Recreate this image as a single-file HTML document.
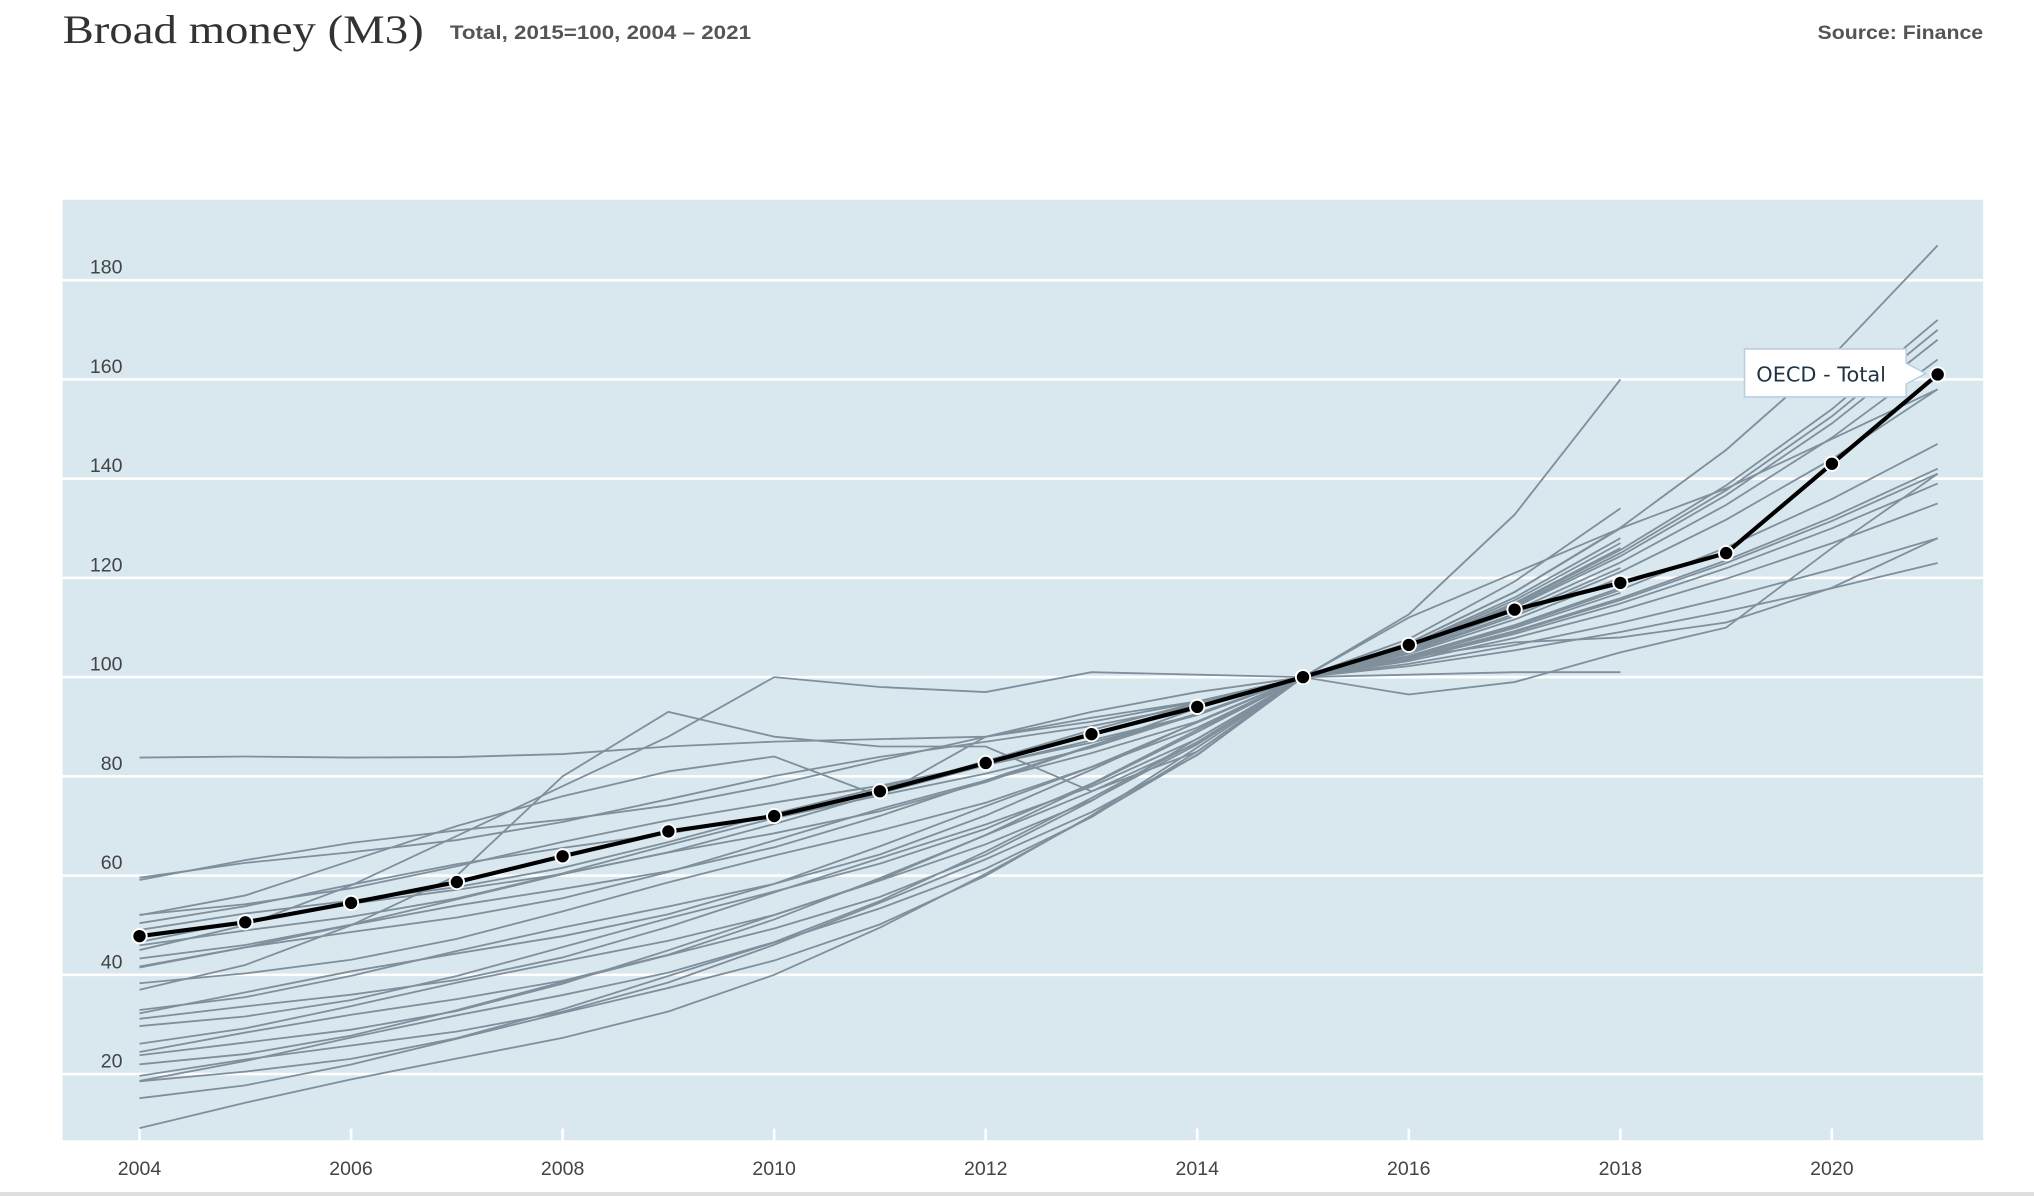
<!DOCTYPE html>
<html><head><meta charset="utf-8"><style>
html,body{margin:0;padding:0;background:#fff;width:2034px;height:1196px;overflow:hidden}
svg{display:block}
</style></head><body>
<svg id="c" width="2034" height="1196" viewBox="0 0 1560 922" preserveAspectRatio="none" xmlns="http://www.w3.org/2000/svg">
<text x="48" y="33" font-family="Liberation Serif, serif" font-size="31" fill="#333" textLength="277" lengthAdjust="spacingAndGlyphs">Broad money (M3)</text>
<text x="345" y="30" font-family="Liberation Sans, sans-serif" font-size="15" font-weight="bold" fill="#555" textLength="231" lengthAdjust="spacingAndGlyphs">Total, 2015=100, 2004 – 2021</text>
<text x="1521" y="30" text-anchor="end" font-family="Liberation Sans, sans-serif" font-size="15" font-weight="bold" fill="#555" textLength="127" lengthAdjust="spacingAndGlyphs">Source: Finance</text>
<rect x="48" y="154" width="1473" height="725" fill="#d9e7ef"/>
<g id="grid"></g>
<g id="lines" fill="none" stroke="#7f909c" stroke-width="1.4"></g>
<g id="main"></g>
<g>
<path d="M1338,269 H1462 V280 L1477,288 L1462,296 V306 H1338 Z" fill="#fff" stroke="#b8cfdf" stroke-width="1.2"/>
<text x="1347" y="294" font-family="DejaVu Sans, sans-serif" font-size="16" fill="#1f3345">OECD - Total</text>
</g>
<rect x="0" y="919" width="1560" height="3" fill="#ddd"/>
</svg>
<script>
var X=function(yr){return 107+(yr-2004)*81.125};
var Y=function(v){return 828-(v-20)*3.825};
var ns="http://www.w3.org/2000/svg";
function el(p,t,a,txt){var e=document.createElementNS(ns,t);for(var k in a)e.setAttribute(k,a[k]);if(txt!==undefined)e.textContent=txt;p.appendChild(e);return e}
var grid=document.getElementById('grid');
for(var v=20;v<=180;v+=20){el(grid,'rect',{x:48,y:Y(v)-1,width:1473,height:2,fill:'#fff'});
el(grid,'text',{x:94,y:Y(v)-5,'text-anchor':'end','font-family':'Liberation Sans, sans-serif','font-size':'15',fill:'#444'},String(v));}
for(var yr=2004;yr<=2020;yr+=2){el(grid,'rect',{x:X(yr)-1,y:870,width:2,height:9,fill:'#fff'});
el(grid,'text',{x:X(yr),y:906,'text-anchor':'middle','font-family':'Liberation Sans, sans-serif','font-size':'15',fill:'#444'},String(yr));}
var L=document.getElementById('lines');
function path(vals,start){var d='';for(var i=0;i<vals.length;i++){if(vals[i]==null)continue;d+=(d?'L':'M')+X(start+i).toFixed(1)+','+Y(vals[i]).toFixed(1)}return d}
var S=[[59.5,1,187,2021],[58.4,0.95,172,2021],[52,1,170,2021],[51.6,1.05,168,2021],[46.4,1,164,2021],[44.8,0.95,158,2021],
[43.8,1,147,2021],[42.5,1.05,142,2021],[40.9,1,141,2021],[37.5,1.05,139,2021],[33.9,1.1,128,2021],[32.8,1.05,123,2021],
[30,1.1,160,2018],[29.4,1.05,134,2018],[27.3,1.1,130,2018],[24.4,1.05,128,2018],[22.6,1.0,127,2018],[22.3,1.05,126,2018],
[19.7,1.0,125,2018],[19,1.05,122,2018],[17.6,1.0,120,2018],[16,1.0,118,2018],[9.8,0.8,117,2018],[48,1.0,135,2021]];
S.forEach(function(s,idx){var a=[];var st=s[0];
for(var yr=2004;yr<=2015;yr++){var f=Math.pow((yr-2004)/11,s[1]);var v=st*Math.pow(100/st,f);
v+=Math.sin(idx*1.7+yr)*1.2*(yr<2015?1:0);a.push(v)}
var E=s[2],Ye=s[3];
for(var yr=2016;yr<=Ye;yr++){var g=Math.pow((yr-2015)/(Ye-2015),1.25);a.push(100*Math.pow(E/100,g))}
el(L,'path',{d:path(a,2004)})});
el(L,'path',{d:path([83.8,84,83.8,83.9,84.5,86,87,87.5,88,91,95,100,96.5,99,105,110,126,141],2004)});
el(L,'path',{d:path([37,42,50,60,80,93,88,86,86,77,85,100,104,107,108,111,118,128],2004)});
el(L,'path',{d:path([45,50,58,68,78,88,100,98,97,101,100.5,100,100.5,101,101],2004)});
el(L,'path',{d:path([52,56,63,70,76,81,84,76,88,93,97,100,112,121,130,138,148,158],2004)});
var M=[47.8,50.6,54.5,58.7,63.9,68.9,72,77,82.7,88.5,94,100,106.5,113.6,119,125,143,161];
var m=document.getElementById('main');
el(m,'path',{d:path(M,2004),fill:'none',stroke:'#000','stroke-width':3.2});
M.forEach(function(v,i){el(m,'circle',{cx:X(2004+i),cy:Y(v),r:5.5,fill:'#000',stroke:'#fff','stroke-width':1.5})});
</script>
</body></html>
